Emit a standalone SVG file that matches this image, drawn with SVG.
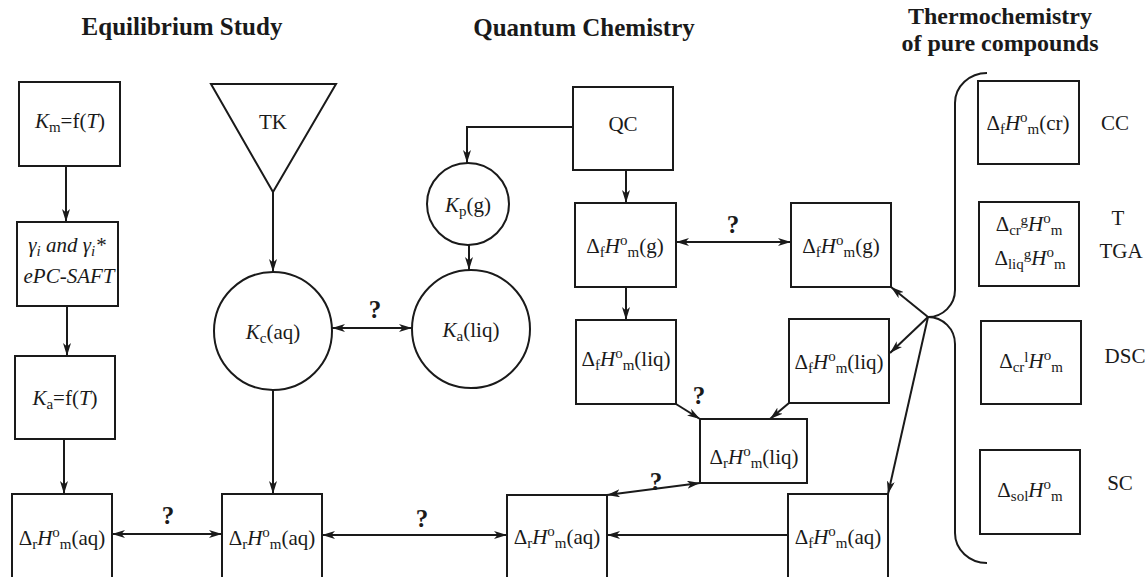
<svg xmlns="http://www.w3.org/2000/svg" width="1148" height="577" viewBox="0 0 1148 577">
<defs>
<marker id="arr" viewBox="0 0 13 8" refX="13" refY="4" markerWidth="13" markerHeight="8" markerUnits="userSpaceOnUse" orient="auto-start-reverse">
<path d="M0,0 L13,4 L0,8 L3.5,4 z" fill="#1a1a1a"/>
</marker>
<style>
text{font-family:"Liberation Serif","Times New Roman",serif;fill:#1a1a1a}
.t{font-size:25px;font-weight:bold;text-anchor:middle}
.t2{font-size:24px;font-weight:bold;text-anchor:middle}
.l{font-size:21px;text-anchor:middle}
.q{font-size:25px;font-weight:bold;text-anchor:middle}
.s{font-size:15px}
.i{font-style:italic}
.box{fill:#fff;stroke:#1a1a1a;stroke-width:2}
.c{fill:none;stroke:#1a1a1a;stroke-width:2}
.a{marker-end:url(#arr)}
.d{marker-start:url(#arr);marker-end:url(#arr)}
</style>
</defs>
<rect width="1148" height="577" fill="#fff"/>

<g id="titles">
<text class="t" x="182" y="35">Equilibrium Study</text>
<text class="t" x="584" y="36">Quantum Chemistry</text>
<text class="t2" x="1000" y="24">Thermochemistry</text>
<text class="t2" x="1000" y="51">of pure compounds</text>
</g>

<g id="connectors" class="c">
<line class="a" x1="66" y1="166" x2="66" y2="222"/>
<line class="a" x1="67" y1="306" x2="67" y2="356"/>
<line class="a" x1="64" y1="439" x2="64" y2="494"/>
<line class="d" x1="112" y1="534" x2="222" y2="534"/>
<line class="a" x1="273" y1="192" x2="273" y2="272"/>
<line class="a" x1="273" y1="390" x2="273" y2="494"/>
<line class="d" x1="332" y1="328" x2="412" y2="328"/>
<path class="a" d="M575,127 H467 V163"/>
<line class="a" x1="469" y1="245" x2="469" y2="270"/>
<line class="a" x1="626" y1="170" x2="626" y2="203"/>
<line class="d" x1="676" y1="242" x2="791" y2="242"/>
<line class="a" x1="626" y1="287" x2="626" y2="320"/>
<line class="a" x1="676" y1="404" x2="700" y2="419"/>
<line class="a" x1="789" y1="403" x2="770" y2="419"/>
<line class="d" x1="700" y1="483" x2="607" y2="495"/>
<line class="d" x1="322" y1="535" x2="507" y2="535"/>
<line class="a" x1="788" y1="535" x2="607" y2="535"/>
<line class="a" x1="928" y1="317" x2="891" y2="287"/>
<line class="a" x1="928" y1="317" x2="890" y2="353"/>
<line class="a" x1="928" y1="317" x2="888" y2="494"/>
<path d="M987,73 A32,30 0 0 0 955,103 V290 A27,27 0 0 1 928,317 A27,27 0 0 1 955,344 V533 A32,30 0 0 0 987,563"/>
</g>

<g id="q-labels">
<text class="q" x="168" y="524">?</text>
<text class="q" x="422" y="527">?</text>
<text class="q" x="375" y="318">?</text>
<text class="q" x="733" y="233">?</text>
<text class="q" x="699" y="404">?</text>
<text class="q" x="656" y="490">?</text>
</g>

<g id="Km">
<rect class="box" x="19" y="82" width="101" height="84"/>
<text class="l" x="70" y="128"><tspan class="i">K</tspan><tspan class="s" dy="4">m</tspan><tspan dy="-4">=f(</tspan><tspan class="i">T</tspan>)</text>
</g>
<g id="gamma">
<rect class="box" x="17" y="222" width="101" height="84"/>
<text class="l i" x="67" y="252">γ<tspan class="s" dy="4">i</tspan><tspan dy="-4"> and γ</tspan><tspan class="s" dy="4">i</tspan><tspan dy="-4">*</tspan></text>
<text class="l i" x="69" y="283">ePC-SAFT</text>
</g>
<g id="Ka">
<rect class="box" x="15" y="356" width="100" height="83"/>
<text class="l" x="65" y="405"><tspan class="i">K</tspan><tspan class="s" dy="4">a</tspan><tspan dy="-4">=f(</tspan><tspan class="i">T</tspan>)</text>
</g>
<g id="DrH-aq-1">
<rect class="box" x="12" y="494" width="100" height="100"/>
<text class="l" x="62" y="545">Δ<tspan class="s" dy="4">r</tspan><tspan class="i" dy="-4">H</tspan><tspan class="s" dy="-8">o</tspan><tspan class="s" dy="12">m</tspan><tspan dy="-4">(aq)</tspan></text>
</g>
<g id="TK">
<polygon class="box" points="211,84 336,84 273,192"/>
<text class="l" x="273" y="129">TK</text>
</g>
<g id="Kc">
<circle class="box" cx="273" cy="331" r="59"/>
<text class="l" x="273" y="339"><tspan class="i">K</tspan><tspan class="s" dy="4">c</tspan><tspan dy="-4">(aq)</tspan></text>
</g>
<g id="DrH-aq-2">
<rect class="box" x="222" y="494" width="100" height="100"/>
<text class="l" x="272" y="545">Δ<tspan class="s" dy="4">r</tspan><tspan class="i" dy="-4">H</tspan><tspan class="s" dy="-8">o</tspan><tspan class="s" dy="12">m</tspan><tspan dy="-4">(aq)</tspan></text>
</g>
<g id="Kp">
<circle class="box" cx="468" cy="204" r="41"/>
<text class="l" x="468" y="212"><tspan class="i">K</tspan><tspan class="s" dy="4">p</tspan><tspan dy="-4">(g)</tspan></text>
</g>
<g id="Kaliq">
<circle class="box" cx="471" cy="329" r="59"/>
<text class="l" x="471" y="337"><tspan class="i">K</tspan><tspan class="s" dy="4">a</tspan><tspan dy="-4">(liq)</tspan></text>
</g>
<g id="QC">
<rect class="box" x="573" y="87" width="100" height="83"/>
<text class="l" x="623" y="131">QC</text>
</g>
<g id="DfH-g-1">
<rect class="box" x="575" y="203" width="101" height="84"/>
<text class="l" x="625" y="253">Δ<tspan class="s" dy="4">f</tspan><tspan class="i" dy="-4">H</tspan><tspan class="s" dy="-8">o</tspan><tspan class="s" dy="12">m</tspan><tspan dy="-4">(g)</tspan></text>
</g>
<g id="DfH-liq-1">
<rect class="box" x="576" y="320" width="100" height="84"/>
<text class="l" x="626" y="366">Δ<tspan class="s" dy="4">f</tspan><tspan class="i" dy="-4">H</tspan><tspan class="s" dy="-8">o</tspan><tspan class="s" dy="12">m</tspan><tspan dy="-4">(liq)</tspan></text>
</g>
<g id="DrH-liq">
<rect class="box" x="700" y="419" width="107" height="64"/>
<text class="l" x="754" y="464">Δ<tspan class="s" dy="4">r</tspan><tspan class="i" dy="-4">H</tspan><tspan class="s" dy="-8">o</tspan><tspan class="s" dy="12">m</tspan><tspan dy="-4">(liq)</tspan></text>
</g>
<g id="DrH-aq-3">
<rect class="box" x="507" y="495" width="100" height="100"/>
<text class="l" x="557" y="544">Δ<tspan class="s" dy="4">r</tspan><tspan class="i" dy="-4">H</tspan><tspan class="s" dy="-8">o</tspan><tspan class="s" dy="12">m</tspan><tspan dy="-4">(aq)</tspan></text>
</g>
<g id="DfH-g-2">
<rect class="box" x="791" y="203" width="100" height="84"/>
<text class="l" x="841" y="253">Δ<tspan class="s" dy="4">f</tspan><tspan class="i" dy="-4">H</tspan><tspan class="s" dy="-8">o</tspan><tspan class="s" dy="12">m</tspan><tspan dy="-4">(g)</tspan></text>
</g>
<g id="DfH-liq-2">
<rect class="box" x="789" y="319" width="100" height="84"/>
<text class="l" x="839" y="369">Δ<tspan class="s" dy="4">f</tspan><tspan class="i" dy="-4">H</tspan><tspan class="s" dy="-8">o</tspan><tspan class="s" dy="12">m</tspan><tspan dy="-4">(liq)</tspan></text>
</g>
<g id="DfH-aq">
<rect class="box" x="788" y="494" width="100" height="100"/>
<text class="l" x="838" y="544">Δ<tspan class="s" dy="4">f</tspan><tspan class="i" dy="-4">H</tspan><tspan class="s" dy="-8">o</tspan><tspan class="s" dy="12">m</tspan><tspan dy="-4">(aq)</tspan></text>
</g>
<g id="DfH-cr">
<rect class="box" x="978" y="81" width="101" height="83"/>
<text class="l" x="1028" y="130">Δ<tspan class="s" dy="4">f</tspan><tspan class="i" dy="-4">H</tspan><tspan class="s" dy="-8">o</tspan><tspan class="s" dy="12">m</tspan><tspan dy="-4">(cr)</tspan></text>
<text class="l" x="1115" y="130">CC</text>
</g>
<g id="Dcrg">
<rect class="box" x="979" y="202" width="100" height="84"/>
<text class="l" x="1029" y="231">Δ<tspan class="s" dy="4">cr</tspan><tspan class="s" dy="-10">g</tspan><tspan class="i" dy="6">H</tspan><tspan class="s" dy="-8">o</tspan><tspan class="s" dy="12">m</tspan></text>
<text class="l" x="1030" y="265">Δ<tspan class="s" dy="4">liq</tspan><tspan class="s" dy="-10">g</tspan><tspan class="i" dy="6">H</tspan><tspan class="s" dy="-8">o</tspan><tspan class="s" dy="12">m</tspan></text>
<text class="l" x="1118" y="225">T</text>
<text class="l" x="1121" y="258">TGA</text>
</g>
<g id="Dcrl">
<rect class="box" x="981" y="321" width="100" height="83"/>
<text class="l" x="1031" y="368">Δ<tspan class="s" dy="4">cr</tspan><tspan class="s" dy="-10">l</tspan><tspan class="i" dy="6">H</tspan><tspan class="s" dy="-8">o</tspan><tspan class="s" dy="12">m</tspan></text>
<text class="l" x="1125" y="363">DSC</text>
</g>
<g id="Dsol">
<rect class="box" x="980" y="450" width="100" height="84"/>
<text class="l" x="1030" y="497">Δ<tspan class="s" dy="4">sol</tspan><tspan class="i" dy="-4">H</tspan><tspan class="s" dy="-8">o</tspan><tspan class="s" dy="12">m</tspan></text>
<text class="l" x="1120" y="490">SC</text>
</g>
</svg>
